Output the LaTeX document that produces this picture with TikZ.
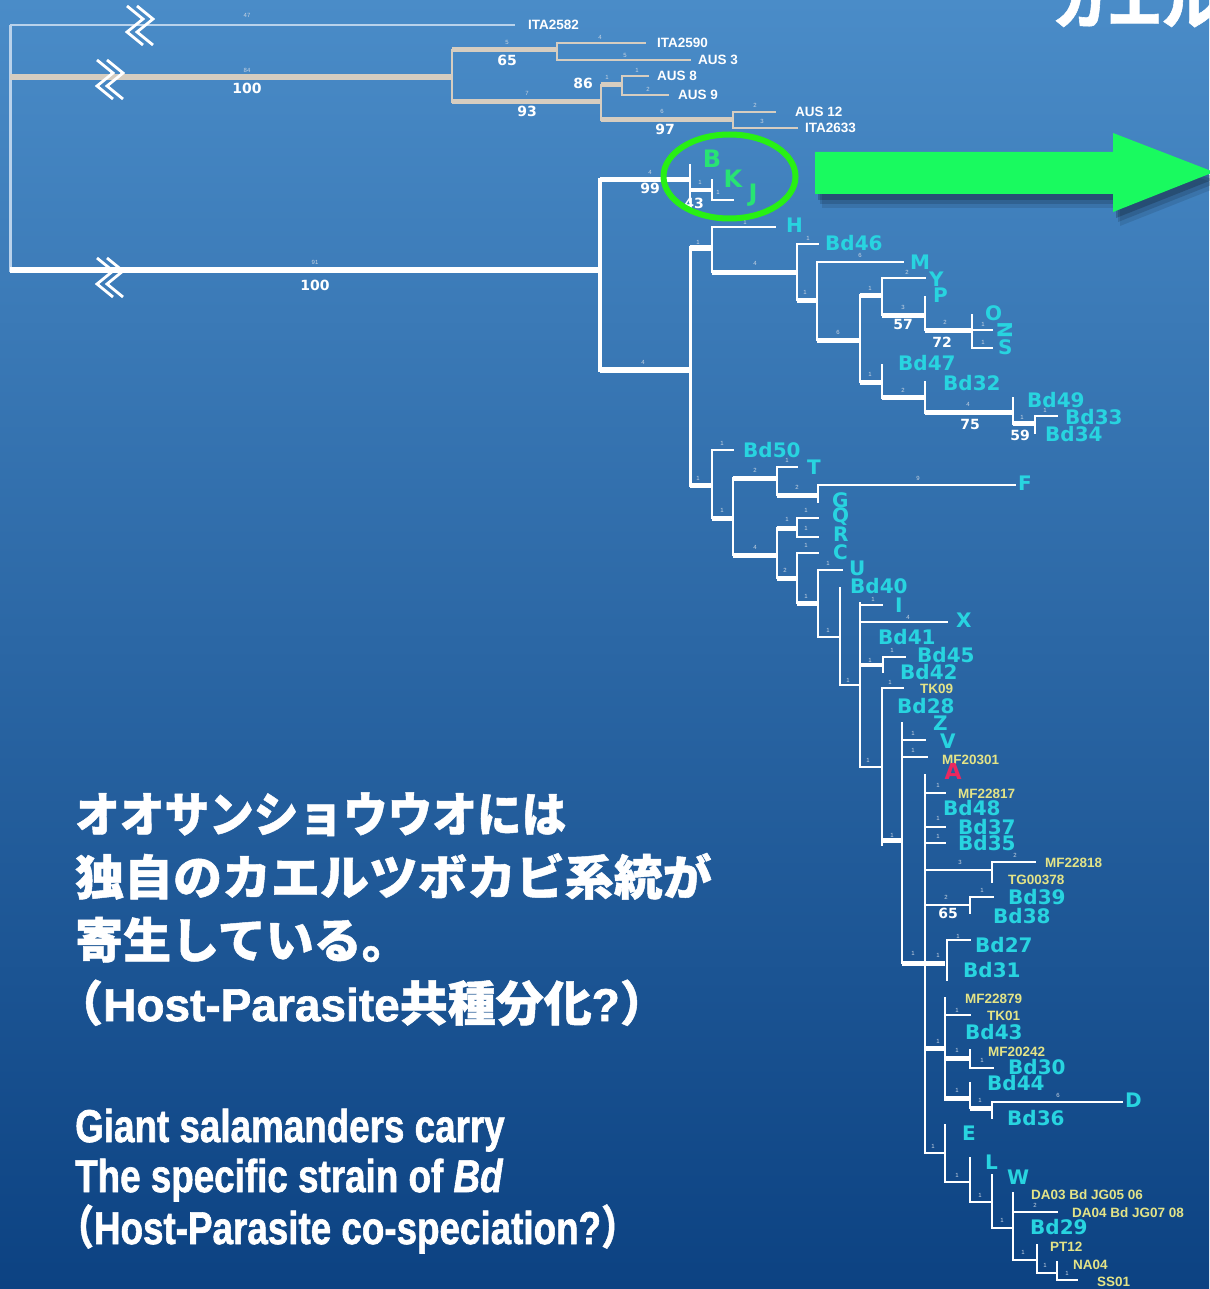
\documentclass[tikz,border=0pt]{standalone}
\usepackage{fontspec}
\usepackage{graphicx}
\newfontfamily\jpf{Noto Sans CJK JP}[BoldFeatures={FakeBold=1}]
\newfontfamily\dvs{DejaVu Sans}
\newfontfamily\lib{Liberation Sans}
\newfontfamily\heavy{Liberation Sans}[BoldFeatures={FakeBold=1.5},BoldItalicFeatures={FakeBold=1.5}]
\definecolor{bgtop}{RGB}{74,140,200}
\definecolor{bgmid}{RGB}{36,100,165}
\definecolor{bgbot}{RGB}{12,66,130}
\definecolor{beige}{RGB}{214,205,192}
\definecolor{pale}{RGB}{185,210,235}
\definecolor{tipc}{RGB}{40,212,224}
\definecolor{tyel}{RGB}{228,228,135}
\definecolor{bkjg}{RGB}{40,228,115}
\definecolor{ringg}{RGB}{40,240,20}
\definecolor{arrowg}{RGB}{25,250,95}
\definecolor{smc}{RGB}{200,212,226}
\definecolor{reda}{RGB}{235,40,95}
\begin{document}
\begin{tikzpicture}[x=1pt,y=-1pt,
  wl/.style={draw=white,line width=2,line cap=rect},
  wt/.style={draw=white,line width=5},
  bl/.style={draw=beige,line width=2,line cap=rect},
  bt/.style={draw=beige,line width=5},
  sm/.style={inner sep=0pt,text=smc,font=\lib\fontsize{6}{6}\selectfont},
  bs/.style={inner sep=0pt,text=white,font=\dvs\bfseries\fontsize{14}{14}\selectfont},
  tw/.style={anchor=west,inner sep=0pt,text=white,font=\lib\bfseries\fontsize{13.5}{13.5}\selectfont},
  ty/.style={anchor=west,inner sep=0pt,text=tyel,font=\lib\bfseries\fontsize{13.5}{13.5}\selectfont},
  tip/.style={anchor=west,inner sep=0pt,text=tipc,font=\dvs\bfseries\fontsize{20}{20}\selectfont},
  tg/.style={inner sep=0pt,text=bkjg,font=\dvs\bfseries\fontsize{24}{24}\selectfont},
  jptext/.style={anchor=base west,inner sep=0pt,text=white,font=\jpf\bfseries\fontsize{48}{48}\selectfont},
  entext/.style={anchor=base west,inner sep=0pt,text=white,font=\heavy\bfseries\fontsize{46}{46}\selectfont}]
\useasboundingbox (0,0) rectangle (1209,1289);
\shade[top color=bgtop,middle color=bgmid,bottom color=bgbot] (0,0) rectangle (1209,1289);

% ---------- outer branches ----------
\draw[draw=pale,line width=3] (10,25) -- (10,272);
\draw[draw=pale,line width=2.5] (10,25) -- (515,25);
\draw[bt,line width=6] (10,77) -- (452,77);
\draw[wt,line width=6] (10,270) -- (600,270);
\foreach \cx/\cy in {140/26,110/80,110/278}
  \foreach \d in {-5,5}
    \draw[white,line width=2.8] (\cx+\d-8,\cy-20) -- (\cx+\d+8,\cy-7) -- (\cx+\d-8,\cy+6) -- (\cx+\d+8,\cy+19);

% ---------- top clade ----------
\draw[bl] (452,50) -- (452,102);
\draw[bt] (452,50) -- (557,50);
\draw[bl] (557,43) -- (557,60);
\draw[bl] (557,43) -- (645,43);
\draw[bl] (557,60) -- (690,60);
\draw[bt] (452,102) -- (601,102);
\draw[bl] (601,85) -- (601,120);
\draw[bt] (601,85) -- (622,85);
\draw[bl] (622,76) -- (622,95);
\draw[bl] (622,76) -- (648,76);
\draw[bl] (622,95) -- (668,95);
\draw[bt] (601,120) -- (733,120);
\draw[bl] (733,112) -- (733,128);
\draw[bl] (733,112) -- (775,112);
\draw[bl] (733,128) -- (797,128);

% ---------- main clade ----------
\draw[wl,line width=4] (600,180) -- (600,370);
\draw[wt] (600,180) -- (690,180);
\draw[wl] (690,165) -- (690,202);
\draw[wt,line width=4] (690,190) -- (712,190);
\draw[wl] (712,180) -- (712,200);
\draw[wl] (712,200) -- (733,200);
\draw[wt,line width=6] (600,370) -- (690,370);
\draw[wl,line width=3] (690,248) -- (690,485);
\draw[wt] (690,248) -- (712,248);
\draw[wl] (712,227) -- (712,272);
\draw[wl] (712,227) -- (775,227);
\draw[wt] (712,272) -- (797,272);
\draw[wl] (797,244) -- (797,300);
\draw[wl] (797,244) -- (818,244);
\draw[wt] (797,300) -- (817,300);
\draw[wl] (817,262) -- (817,340);
\draw[wl] (817,262) -- (903,262);
\draw[wt] (817,340) -- (860,340);
\draw[wl] (860,295) -- (860,382);
\draw[wt] (860,295) -- (882,295);
\draw[wl] (882,278) -- (882,315);
\draw[wl] (882,278) -- (925,278);
\draw[wt] (882,315) -- (925,315);
\draw[wl] (925,297) -- (925,330);
\draw[wt] (925,330) -- (972,330);
\draw[wl] (972,315) -- (972,348);
\draw[wl] (972,330) -- (992,330);
\draw[wl] (972,348) -- (992,348);
\draw[wt] (860,382) -- (882,382);
\draw[wl] (882,365) -- (882,398);
\draw[wt] (882,397) -- (925,397);
\draw[wl] (925,382) -- (925,413);
\draw[wt] (925,412) -- (1013,412);
\draw[wl] (1013,398) -- (1013,424);
\draw[wt] (1013,423) -- (1035,423);
\draw[wl] (1035,416) -- (1035,433);
\draw[wl] (1035,416) -- (1057,416);

\draw[wt] (690,485) -- (712,485);
\draw[wl] (712,450) -- (712,518);
\draw[wl] (712,450) -- (733,450);
\draw[wt] (712,518) -- (733,518);
\draw[wl] (733,478) -- (733,555);
\draw[wt] (733,478) -- (777,478);
\draw[wl] (777,467) -- (777,495);
\draw[wl] (777,467) -- (797,467);
\draw[wt] (777,495) -- (818,495);
\draw[wl] (818,485) -- (818,502);
\draw[wl] (818,485) -- (1015,485);
\draw[wt] (733,555) -- (777,555);
\draw[wl] (777,528) -- (777,578);
\draw[wt] (777,528) -- (797,528);
\draw[wl] (797,518) -- (797,537);
\draw[wl] (797,518) -- (818,518);
\draw[wl] (797,537) -- (818,537);
\draw[wt] (777,578) -- (797,578);
\draw[wl] (797,553) -- (797,603);
\draw[wl] (797,553) -- (818,553);
\draw[wt] (797,603) -- (818,603);
\draw[wl] (818,570) -- (818,637);
\draw[wl] (818,570) -- (842,570);
\draw[wl] (818,637) -- (840,637);
\draw[wl] (840,588) -- (840,685);
\draw[wl] (840,685) -- (860,685);
\draw[wl] (860,603) -- (860,767);
\draw[wl] (860,605) -- (882,605);
\draw[wl] (860,622) -- (947,622);
\draw[wt,line width=3.5] (860,665) -- (883,665);
\draw[wl] (883,657) -- (883,672);
\draw[wl] (883,657) -- (905,657);
\draw[wl] (860,767) -- (882,767);
\draw[wl] (882,688) -- (882,845);
\draw[wl] (882,688) -- (903,688);
\draw[wt] (882,840) -- (902,840);
\draw[wl] (902,723) -- (902,963);
\draw[wl] (902,740) -- (925,740);
\draw[wl] (902,757) -- (927,757);
\draw[wt] (902,963) -- (945,963);
\draw[wl] (947,940) -- (947,980);
\draw[wl] (947,940) -- (970,940);
\draw[wl] (925,775) -- (925,1153);
\draw[wl] (925,793) -- (945,793);
\draw[wl] (925,827) -- (945,827);
\draw[wl] (925,843) -- (945,843);
\draw[wl] (925,870) -- (992,870);
\draw[wl] (992,862) -- (992,882);
\draw[wl] (992,862) -- (1035,862);
\draw[wl] (925,905) -- (970,905);
\draw[wl] (970,897) -- (970,913);
\draw[wl] (970,897) -- (993,897);
\draw[wt] (925,1048) -- (945,1048);
\draw[wl] (945,998) -- (945,1100);
\draw[wl] (945,1015) -- (970,1015);
\draw[wt] (945,1058) -- (970,1058);
\draw[wl] (970,1050) -- (970,1068);
\draw[wl] (970,1068) -- (993,1068);
\draw[wt] (945,1098) -- (970,1098);
\draw[wl] (970,1083) -- (970,1108);
\draw[wt] (970,1108) -- (992,1108);
\draw[wl] (992,1102) -- (992,1118);
\draw[wl] (992,1102) -- (1122,1102);
\draw[wl] (925,1153) -- (945,1153);
\draw[wl] (945,1125) -- (945,1182);
\draw[wl] (945,1182) -- (970,1182);
\draw[wl] (970,1158) -- (970,1202);
\draw[wl] (970,1202) -- (992,1202);
\draw[wl] (992,1175) -- (992,1228);
\draw[wl] (992,1228) -- (1013,1228);
\draw[wl] (1013,1193) -- (1013,1260);
\draw[wl] (1013,1212) -- (1057,1212);
\draw[wl] (1013,1260) -- (1037,1260);
\draw[wl] (1037,1245) -- (1037,1273);
\draw[wl] (1037,1273) -- (1057,1273);
\draw[wl] (1057,1262) -- (1057,1280);
\draw[wl] (1057,1280) -- (1077,1280);

% ---------- small branch-length numbers ----------
\foreach \xa/\ya/\ta [count=\i] in {247/15/47,247/70/84,315/262/91,507/42/5,600/37/4,625/55/5,527/93/7,
  607/77/1,637/70/1,648/89/2,662/111/6,755/105/2,762/121/3,650/172/4,700/182/1,718/192/1,643/362/4,
  698/242/1,745/222/1,755/263/4,808/238/1,805/292/1,860/255/6,838/332/6,870/288/1,907/272/2,903/307/3,
  945/322/2,983/324/1,983/342/1,870/374/1,903/390/2,968/404/4,1022/417/1,1045/410/1,
  698/478/1,722/443/1,722/510/1,755/470/2,787/460/1,797/487/2,918/478/9,755/547/4,787/519/1,
  806/510/1,806/528/1,785/570/2,806/545/1,806/596/1,828/563/1,828/630/1,873/599/1,908/617/4,
  848/680/1,870/660/1,892/650/1,868/760/1,890/682/1,892/835/1,913/733/1,913/750/1,
  938/785/1,938/818/1,938/836/1,960/862/3,1015/855/2,946/897/2,982/890/1,913/953/1,938/955/1,
  958/936/1,957/1010/1,938/1041/1,957/1050/1,982/1060/1,957/1090/1,980/1100/1,1058/1095/6,
  933/1146/1,957/1175/1,980/1195/1,1002/1220/1,1035/1205/2,1023/1252/1,1045/1265/1,1067/1273/1}
  \node[sm] (sm\i) at (\xa,\ya) {\ta};

% ---------- bootstrap values ----------
\foreach \xa/\ya/\ta [count=\i] in {247/88/100,315/285/100,507/60/65,527/111/93,583/83/86,665/129/97,
  650/188/99,694/203/43,903/324/57,942/342/72,970/424/75,1020/435/59,948/913/65}
  \node[bs] (bs\i) at (\xa,\ya) {\ta};

% ---------- outgroup labels ----------
\foreach \xa/\ya/\ta [count=\i] in {528/25/ITA2582,657/43/ITA2590,698/60/{AUS 3},657/76/{AUS 8},
  678/95/{AUS 9},795/112/{AUS 12},805/128/ITA2633}
  \node[tw] (tw\i) at (\xa,\ya) {\ta};

% ---------- cyan tip labels ----------
\foreach \xa/\ya/\ta [count=\i] in {786/225/H,825/243/Bd46,910/262/M,929/279/Y,933/295/P,985/313/O,
  998/347/S,898/363/Bd47,943/383/Bd32,1027/400/Bd49,1065/417/Bd33,1045/434/Bd34,
  743/450/Bd50,807/467/T,1018/483/F,832/500/G,832/517/Q,833/534/R,833/552/C,849/568/U,850/586/Bd40,
  895/605/I,956/620/X,878/637/Bd41,917/655/Bd45,900/672/Bd42,897/706/Bd28,933/723/Z,940/741/V,
  943/808/Bd48,958/827/Bd37,958/843/Bd35,1008/897/Bd39,993/916/Bd38,975/945/Bd27,963/970/Bd31,
  965/1032/Bd43,1008/1067/Bd30,987/1083/Bd44,1125/1100/D,1007/1118/Bd36,962/1133/E,985/1162/L,
  1007/1177/W,1030/1227/Bd29}
  \node[tip] (tip\i) at (\xa,\ya) {\ta};
\node[tip,rotate=90,anchor=center] (tipN) at (1005,330) {N};

% ---------- yellow tip labels ----------
\foreach \xa/\ya/\ta [count=\i] in {920/689/TK09,942/760/MF20301,958/794/MF22817,1045/863/MF22818,
  1008/880/TG00378,965/999/MF22879,987/1016/TK01,988/1052/MF20242,1031/1195/{DA03 Bd JG05 06},
  1072/1213/{DA04 Bd JG07 08},1050/1247/PT12,1073/1265/NA04,1097/1282/SS01}
  \node[ty] (ty\i) at (\xa,\ya) {\ta};
\node[inner sep=0pt,text=reda,font=\dvs\bfseries\fontsize{22}{22}\selectfont] (redA) at (953,771) {A};

% ---------- B K J and highlight ----------
\node[tg] (lB) at (712,159) {B};
\node[tg] (lK) at (733,179) {K};
\node[tg] (lJ) at (753,195) {J};
\draw[ringg,line width=6] (729.5,176.5) ellipse [x radius=66,y radius=42];

% ---------- green arrow with shadow ----------
\foreach \s/\o in {7/0.10,5/0.14,3/0.2}
  \fill[black,opacity=\o] (815+\s,152+2*\s) -- (1113+\s,152+2*\s) -- (1113+\s,133+2*\s) -- (1214+\s,172+2*\s)
    -- (1113+\s,212+2*\s) -- (1113+\s,194+2*\s) -- (815+\s,194+2*\s) -- cycle;
\fill[arrowg] (815,152) -- (1113,152) -- (1113,133) -- (1214,172) -- (1113,212) -- (1113,194) -- (815,194) -- cycle;

% ---------- headline fragment ----------
\node[anchor=base west,inner sep=0pt,text=white,font=\jpf\bfseries\fontsize{55}{55}\selectfont] (title) at (1052,24) {カエル};

% ---------- Japanese text ----------
\node[jptext] (jp1) at (75,832) {\scalebox{0.93}[1]{オオサンショウウオには}};
\node[jptext] (jp2) at (75,895) {\scalebox{1.02}[1]{独自のカエルツボカビ系統が}};
\node[jptext] (jp3) at (75,958) {寄生している。};
\node[jptext] (jp4) at (55,1021) {（{\heavy\bfseries\fontsize{46}{46}\selectfont Host-Parasite}共種分化{\heavy\bfseries\fontsize{46}{46}\selectfont ?}）};

% ---------- English text ----------
\node[entext] (en1) at (75,1142) {\scalebox{0.8}[1]{Giant salamanders carry}};
\node[entext] (en2) at (75,1192) {\scalebox{0.8}[1]{The specific strain of \textit{Bd}}};
\node[entext] (en3) at (57,1244) {\scalebox{0.8}[1]{{\jpf （}Host-Parasite co-speciation?{\jpf ）}}};
\end{tikzpicture}
\end{document}
